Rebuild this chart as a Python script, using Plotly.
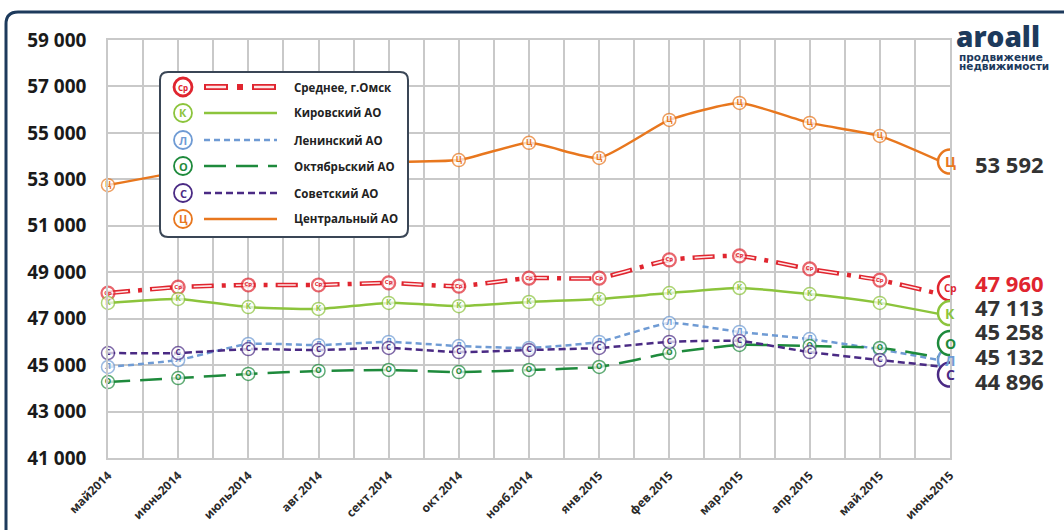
import plotly.graph_objects as go

W, H = 1064, 530
L, R, T, B = 108, 114, 40, 72
PW, PH = W - L - R, H - T - B

months = ["май2014", "июнь2014", "июль2014", "авг.2014", "сент.2014", "окт.2014", "нояб.2014",
          "янв.2015", "фев.2015", "мар.2015", "апр.2015", "май.2015", "июнь2015"]

avg_omsk = [48100, 48360, 48450, 48450, 48540, 48400, 48750, 48750, 49530, 49700, 49140, 48660, 47960]
kirovsky = [47680, 47850, 47500, 47420, 47680, 47540, 47720, 47850, 48100, 48320, 48060, 47680, 47113]
leninsky = [44920, 45220, 45910, 45860, 46000, 45820, 45740, 46000, 46810, 46430, 46120, 45680, 45132]
oktyabrsky = [44270, 44440, 44620, 44750, 44790, 44700, 44790, 44920, 45520, 45870, 45820, 45740, 45258]
sovetsky = [45520, 45520, 45690, 45650, 45740, 45560, 45650, 45740, 46000, 46040, 45560, 45220, 44896]
centralny = [52750, 53300, 53600, 53750, 53750, 53830, 54570, 53920, 55560, 56290, 55430, 54870, 53592]

y_ticks = list(range(41000, 59001, 2000))

RED = "#e0252f"
NAVY = "#1d3a5c"
GRID = "#c9c9c9"
FONT = "Open Sans"

# name, values, letter, color, dash, width, badge shift, label shift (px)
series = [
    ("Среднее, г.Омск", avg_omsk, "Ср", RED, "22px,8px,4px,8px", 4.5, 8, 13),
    ("Кировский АО", kirovsky, "К", "#8cc43c", "solid", 2.5, 3, 9),
    ("Ленинский АО", leninsky, "Л", "#6f9bd4", "6px,4px", 2.5, 2, 6),
    ("Октябрьский АО", oktyabrsky, "О", "#1e8a3c", "22px,10px", 2.5, 16, 28),
    ("Советский АО", sovetsky, "С", "#4a2a84", "7px,4px", 2.5, -7, -13),
    ("Центральный АО", centralny, "Ц", "#e8771e", "solid", 2.5, 4, 2),
]


def px(xp):
    return (xp - L) / PW


def py(yp):
    return (H - B - yp) / PH


x_idx = list(range(len(months)))
n = len(months)
fig = go.Figure()

for name, vals, letter, color, dash, width, _, _ in series:
    is_avg = name.startswith("Среднее")
    fsize = 6 if len(letter) > 1 else 8
    marker = dict(size=[13] * (n - 1) + [0], color="white", symbol="circle",
                  line=dict(color=color, width=[2.2 if is_avg else 1.5] * (n - 1) + [0]))
    txt = [letter] * (n - 1) + [""]
    line = dict(color=color, width=width, dash=dash, shape="spline", smoothing=0.5)
    if is_avg:
        fig.add_trace(go.Scatter(x=x_idx, y=vals, mode="lines", cliponaxis=False, line=line,
                                 hoverinfo="skip"))
        line = dict(color="#fde6e6", width=1.6, dash="0px,2px,18px,22px", shape="spline", smoothing=0.5)
    fig.add_trace(go.Scatter(x=x_idx, y=vals, mode="lines+markers+text", cliponaxis=False,
                             line=line, marker=marker, text=txt, textposition="middle center",
                             textfont=dict(size=fsize, color=color, family=FONT, weight=700),
                             name=name, hoverinfo="skip"))

shapes = []
annotations = []

# end badges and value labels
for name, vals, letter, color, dash, width, bshift, lshift in series:
    shapes.append(dict(type="circle", xref="x", yref="y", xsizemode="pixel", ysizemode="pixel",
                       xanchor=n - 1, yanchor=vals[-1], x0=-12, x1=12, y0=bshift - 12, y1=bshift + 12,
                       fillcolor="white", line=dict(color=color, width=2.5), layer="above"))
    annotations.append(dict(x=n - 1, y=vals[-1], xref="x", yref="y", yshift=bshift, showarrow=False,
                            xanchor="center", yanchor="middle", text=letter,
                            font=dict(size=10 if len(letter) > 1 else 14, color=color, family=FONT, weight=700)))
    lab_color = RED if name.startswith("Среднее") else "#333333"
    annotations.append(dict(x=n - 1, y=vals[-1], xref="x", yref="y", xanchor="left", yanchor="middle",
                            xshift=23, yshift=lshift, showarrow=False, text=f"{vals[-1]:,}".replace(",", " "),
                            font=dict(size=22, color=lab_color, family=FONT, weight=700)))

# legend box
x0, x1, y0, y1, r = 160, 408, 72, 237, 8
shapes.append(dict(type="path", xref="paper", yref="paper", layer="above",
                   path=(f"M {px(x0 + r)},{py(y0)} L {px(x1 - r)},{py(y0)} Q {px(x1)},{py(y0)} {px(x1)},{py(y0 + r)} "
                         f"L {px(x1)},{py(y1 - r)} Q {px(x1)},{py(y1)} {px(x1 - r)},{py(y1)} "
                         f"L {px(x0 + r)},{py(y1)} Q {px(x0)},{py(y1)} {px(x0)},{py(y1 - r)} "
                         f"L {px(x0)},{py(y0 + r)} Q {px(x0)},{py(y0)} {px(x0 + r)},{py(y0)} Z"),
                   fillcolor="white", line=dict(color="#3a4656", width=2)))

rows = [87, 113, 140, 166, 193, 219]
for (name, vals, letter, color, dash, width, _, _), ry in zip(series, rows):
    is_avg = letter == "Ср"
    shapes.append(dict(type="circle", xref="paper", yref="paper", layer="above",
                       x0=px(174), x1=px(192), y0=py(ry + 9), y1=py(ry - 9),
                       fillcolor="white", line=dict(color=color, width=2.8 if is_avg else 1.8)))
    annotations.append(dict(x=px(183), y=py(ry), xref="paper", yref="paper", showarrow=False,
                            xanchor="center", yanchor="middle", text=letter,
                            font=dict(size=8 if is_avg else 11, color=color, family=FONT, weight=700)))
    shapes.append(dict(type="line", xref="paper", yref="paper", layer="above",
                       x0=px(204), x1=px(277), y0=py(ry), y1=py(ry),
                       line=dict(color=color, width=6 if is_avg else 2.5,
                                 dash="24px,9px,6px,9px" if is_avg else dash)))
    if is_avg:
        shapes.append(dict(type="line", xref="paper", yref="paper", layer="above",
                           x0=px(204), x1=px(277), y0=py(ry), y1=py(ry),
                           line=dict(color="#fde6e6", width=2.5, dash="0px,2px,20px,26px")))
    annotations.append(dict(x=px(292), y=py(ry), xref="paper", yref="paper", xanchor="left",
                            yanchor="middle", showarrow=False, text=name,
                            font=dict(size=11.5, color="#222222", family=FONT, weight=700)))

# frame
shapes.append(dict(type="path", xref="paper", yref="paper", layer="above",
                   path=f"M {px(1080)},{py(12)} L {px(18)},{py(12)} Q {px(6)},{py(12)} {px(6)},{py(24)} L {px(6)},{py(545)}",
                   line=dict(color=NAVY, width=3)))

# logo
annotations.append(dict(x=px(954), y=py(36), xref="paper", yref="paper", showarrow=False,
                        xanchor="left", yanchor="middle",
                        text="aroall", font=dict(size=28, color=NAVY, family=FONT, weight=800)))
for text, ty in (("продвижение", 57), ("недвижимости", 66)):
    annotations.append(dict(x=px(957), y=py(ty), xref="paper", yref="paper", showarrow=False,
                            xanchor="left", yanchor="middle", text=text,
                            font=dict(size=10.5, color=NAVY, family="DejaVu Sans", weight=700)))

fig.update_xaxes(range=[0, n - 1], tickvals=x_idx, ticktext=months, tickangle=-45,
                 tickfont=dict(size=12, color="#2a2a2a", family=FONT, weight=700),
                 showgrid=True, gridcolor=GRID, gridwidth=1.5,
                 minor=dict(tickvals=[i + 0.5 for i in x_idx[:-1]], showgrid=True, gridcolor=GRID, gridwidth=1.5),
                 showline=True, linecolor=GRID, linewidth=1.5, mirror=True, zeroline=False,
                 ticks="", ticklabelstandoff=4, fixedrange=True)
fig.update_yaxes(range=[41000, 59000], tickvals=y_ticks, tickformat=",d",
                 tickfont=dict(size=19, color="#1a1a1a", family=FONT, weight=700),
                 showgrid=True, gridcolor=GRID, gridwidth=1.5, zeroline=False,
                 showline=True, linecolor=GRID, linewidth=1.5, mirror=True,
                 ticks="", ticklabelstandoff=16, fixedrange=True)
fig.update_layout(width=W, height=H, margin=dict(l=L, r=R, t=T, b=B, autoexpand=False),
                  paper_bgcolor="white", plot_bgcolor="white", showlegend=False,
                  separators=", ", shapes=shapes, annotations=annotations)

fig.write_html("out.html", config={"displayModeBar": False},
               post_script="document.body.style.margin='0';")
